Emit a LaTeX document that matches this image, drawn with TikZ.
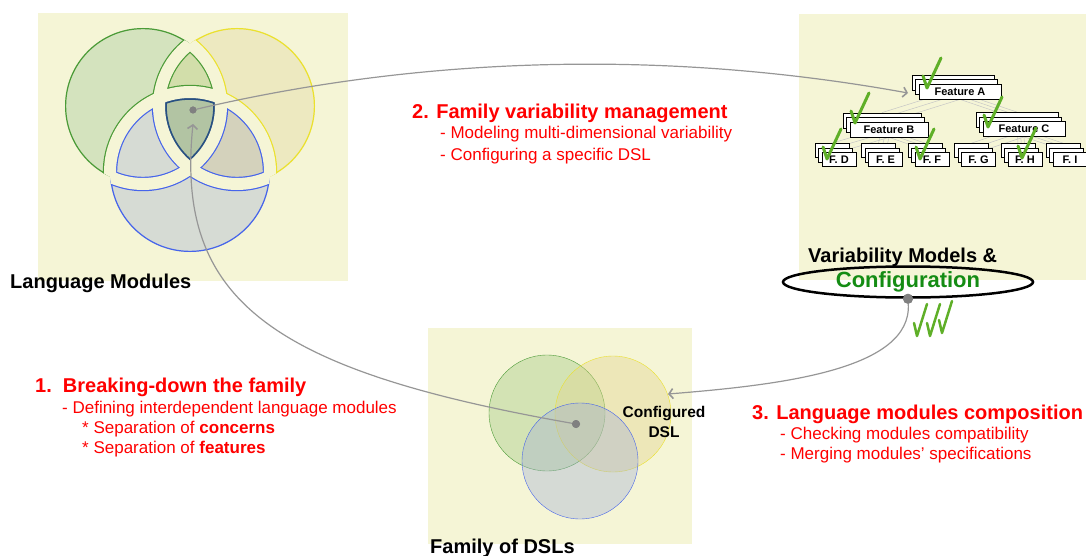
\documentclass[tikz,border=0pt]{standalone}
\usepackage{fontspec}
\setmainfont{Liberation Sans}
\usepackage{tikz}
\usetikzlibrary{arrows.meta,positioning,calc,shadows,shapes.geometric}

\definecolor{panel}{RGB}{245,245,214}
\definecolor{gline}{RGB}{75,155,55}
\definecolor{gfill}{RGB}{160,200,130}
\definecolor{yline}{RGB}{235,225,45}
\definecolor{yfill}{RGB}{225,212,140}
\definecolor{bline}{RGB}{70,100,235}
\definecolor{bfill}{RGB}{165,178,212}
\definecolor{gybline}{RGB}{40,80,130}
\definecolor{gonly}{RGB}{212,227,190}
\definecolor{yonly}{RGB}{237,233,192}
\definecolor{bonly}{RGB}{214,219,212}
\definecolor{gy}{RGB}{210,222,170}
\definecolor{gb}{RGB}{214,219,212}
\definecolor{yb}{RGB}{212,210,188}
\definecolor{gyb}{RGB}{178,196,163}
\definecolor{tickgreen}{RGB}{95,175,40}
\definecolor{cfggreen}{RGB}{20,140,20}
\definecolor{arrowgray}{RGB}{150,150,150}
\definecolor{dotgray}{RGB}{128,128,128}

\pgfdeclarelayer{bg}
\pgfdeclarelayer{mid}
\pgfsetlayers{bg,mid,main}

\begin{document}
\begin{tikzpicture}[x=1pt,y=-1pt,
    head/.style={text=red, font=\fontsize{20}{24}\selectfont\bfseries, anchor=base west, inner sep=0},
    sub/.style={text=red, font=\fontsize{17}{20}\selectfont, anchor=base west, inner sep=0},
    panelname/.style={font=\fontsize{20}{24}\selectfont\bfseries, anchor=base west, inner sep=0},
    feat/.style={draw, fill=white, line width=0.8pt, inner sep=1pt, minimum height=15pt,
        font=\fontsize{11}{13}\selectfont\bfseries,
        double copy shadow={shadow xshift=-3.5pt, shadow yshift=4.5pt, fill=white, draw=black, line width=0.8pt}},
    leaf/.style={feat, minimum width=34pt, minimum height=14pt},
    treeline/.style={draw=gray!45, line width=0.5pt},
    checkmk/.style={draw=tickgreen, line width=3pt, line cap=round, line join=round},
    dot/.style={circle, fill=dotgray, inner sep=0, minimum size=8pt},
    link/.style={draw=arrowgray, line width=1.2pt, -{Straight Barb[length=4pt,width=10pt,line width=1.6pt]}}]
    \useasboundingbox (0,0) rectangle (1086,556);

    % panels
    \begin{pgfonlayer}{bg}
        \fill[panel] (38,13) rectangle (348,281);
        \fill[panel] (799,14) rectangle (1086,280);
        \fill[panel] (428,328) rectangle (692,544);
    \end{pgfonlayer}

    % language modules: venn cut into seven pieces
    \coordinate (gc) at (143,106);
    \coordinate (yc) at (237,106);
    \coordinate (bc) at (190,172);
    \foreach \g/\y/\b/\fc/\lc/\lw in {1/0/0/gonly/gline/14.4, 0/1/0/yonly/yline/14.4, 0/0/1/bonly/bline/14.4,
                                      1/1/0/gy/gline/14.4, 1/0/1/gb/bline/14.4, 0/1/1/yb/bline/14.4,
                                      1/1/1/gyb/gybline/15.6}
    {
        \begin{scope}[even odd rule]
            \ifnum\g=1 \clip (gc) circle (78); \else \clip (0,0) rectangle (400,320) (gc) circle (78); \fi
            \ifnum\y=1 \clip (yc) circle (78); \else \clip (0,0) rectangle (400,320) (yc) circle (78); \fi
            \ifnum\b=1 \clip (bc) circle (80); \else \clip (0,0) rectangle (400,320) (bc) circle (80); \fi
            \fill[\fc] (0,0) rectangle (400,320);
            \pgfmathtruncatemacro\ig{\y+\b}
            \pgfmathtruncatemacro\iy{\g+\b}
            \pgfmathtruncatemacro\ib{\g+\y}
            % inner edges are set back, outer edges keep a thin rim
            \ifnum\ig>0 \draw[\lc, line width=\lw pt] (gc) circle (78); \else \draw[\lc, line width=2.4pt] (gc) circle (78); \fi
            \ifnum\iy>0 \draw[\lc, line width=\lw pt] (yc) circle (78); \else \draw[\lc, line width=2.4pt] (yc) circle (78); \fi
            \ifnum\ib>0 \draw[\lc, line width=\lw pt] (bc) circle (80); \else \draw[\lc, line width=2.4pt] (bc) circle (80); \fi
            \ifnum\ig>0 \draw[panel, line width=12pt] (gc) circle (78); \fi
            \ifnum\iy>0 \draw[panel, line width=12pt] (yc) circle (78); \fi
            \ifnum\ib>0 \draw[panel, line width=12pt] (bc) circle (80); \fi
        \end{scope}
    }
    % close the seams inside the gaps
    \foreach \c/\r/\o/\q in {gc/78/yc/78, gc/78/bc/80, yc/78/gc/78, yc/78/bc/80, bc/80/gc/78, bc/80/yc/78}
    {
        \begin{scope}
            \clip (\o) circle (\q);
            \draw[panel, line width=6pt] (\c) circle (\r);
        \end{scope}
    }
    \node[panelname] (lmname) at (10,288) {Language Modules};

    % family of DSLs
    \draw[gline, fill=gfill, fill opacity=.4] (547,413) circle (58);
    \draw[yline, fill=yfill, fill opacity=.4] (613,414) circle (58);
    \draw[bline, fill=bfill, fill opacity=.4] (580,461) circle (58);
    \node[font=\fontsize{15.5}{19.5}\selectfont\bfseries, align=center] (cdsl) at (664,422) {Configured\\DSL};
    \node[panelname] (fdname) at (430,553) {Family of DSLs};

    % feature model
    \node[feat, minimum width=82pt] (fa) at (960,91.5) {Feature A};
    \node[feat, minimum width=78pt] (fb) at (889,129.5) {Feature B};
    \node[feat, minimum width=82pt] (fc) at (1024,129) {Feature C};
    \foreach \n/\x/\t in {fd/839/F. D, fe/885.5/F. E, ff/932/F. F, fg/978.5/F. G, fh/1025/F. H, fi/1070/F. I}
        \node[leaf] (\n) at (\x,159.5) {\t};
    \begin{pgfonlayer}{mid}
        \foreach \p/\c in {fa/fb, fa/fc, fb/fd, fb/fe, fb/ff, fc/fg, fc/fh, fc/fi}
            \foreach \s in {0,1,2}
                \draw[treeline] ([xshift={-3.5pt*\s}, yshift={4.5pt*\s}]\p.south) -- ([xshift={-3.5pt*\s}, yshift={4.5pt*\s}]\c.north);
    \end{pgfonlayer}
    \foreach \x/\y in {927/88, 855/123, 988/127, 827/159, 920/159, 1022/158}
        \draw[checkmk] (\x-4,\y-12) -- (\x,\y) -- (\x+14,\y-30);

    \node[panelname] (vmname) at (808,262) {Variability Models \&};
    \node[ellipse, draw, line width=2.5pt, minimum width=250pt, minimum height=31pt, inner sep=0,
        text=cfggreen, font=\fontsize{22}{26}\selectfont\bfseries] (cfg) at (908,282) {Configuration};
    \foreach \x/\y in {917/336, 930/336, 942/333}
        \draw[checkmk, line width=2.5pt] (\x-3,\y-13) -- (\x,\y) -- (\x+10,\y-32);

    % steps
    \node[head] (h1) at (35,392) {1.\ \ Breaking-down the family};
    \node[sub] (h1a) at (62,413) {- Defining interdependent language modules};
    \node[sub] (h1b) at (82,433) {* Separation of \textbf{concerns}};
    \node[sub] (h1c) at (82,453) {* Separation of \textbf{features}};
    \node[head] (h2) at (412,119) {2. Family variability management};
    \node[sub] (h2a) at (440,139) {- Modeling multi-dimensional variability};
    \node[sub] (h2b) at (440,161) {- Configuring a specific DSL};
    \node[head] (h3) at (752,419) {3. Language modules composition};
    \node[sub] (h3a) at (780,439) {- Checking modules compatibility};
    \node[sub] (h3b) at (780,459) {- Merging modules’ specifications};

    % connectors
    \coordinate (faIn) at (908,93);
    \coordinate (lmIn) at (193,124);
    \coordinate (dslIn) at (668,394);
    \node[dot, minimum size=7pt] (lmdot) at (193,110) {};
    \node[dot] (dsldot) at (576,424) {};
    \node[dot, minimum size=10pt] (cfgdot) at (cfg.south) {};
    \draw[link] (lmdot) .. controls (428,55) and (671,50) .. (faIn);
    \draw[link] (dsldot) .. controls (270,370) and (175,300) .. (lmIn);
    \draw[link] (cfgdot) .. controls (912,370) and (780,385) .. (dslIn);
    \node[dot, minimum size=7pt] at (lmdot) {};
    \node[dot] at (dsldot) {};
    \node[dot, minimum size=10pt] at (cfgdot) {};
\end{tikzpicture}
\end{document}
